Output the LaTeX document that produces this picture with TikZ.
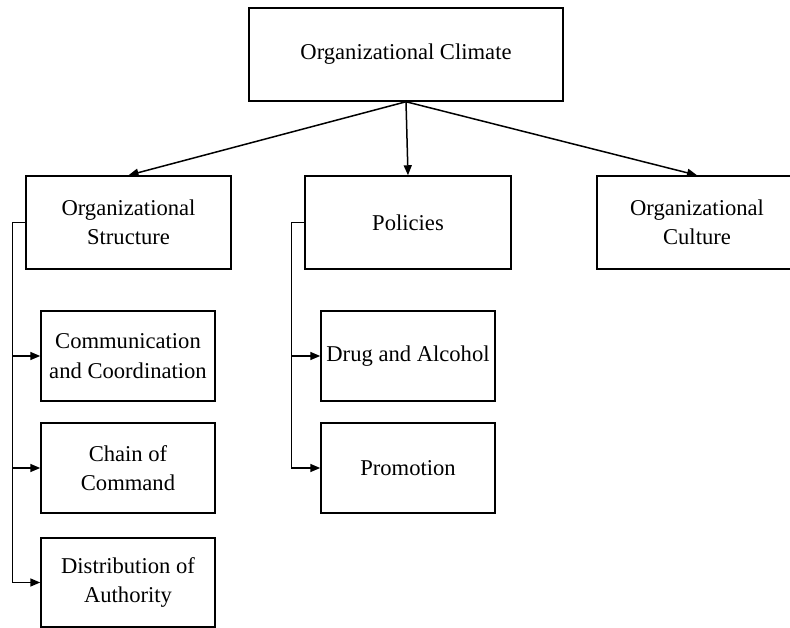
\documentclass[tikz,border=0pt]{standalone}
\usepackage{fontspec}
\setmainfont{Liberation Serif}
\usetikzlibrary{arrows.meta}
\begin{document}
\begin{tikzpicture}[x=1pt,y=-1pt,
  box/.style={draw, line width=1.5pt, inner sep=0pt, align=center,
    font=\fontsize{22.6}{29.5}\selectfont},
  conn/.style={line width=1.5pt, -{Triangle[length=10pt,width=8pt]}},
  link/.style={line width=1.5pt}]
\useasboundingbox (0,0) rectangle (790,628);
\node[box, minimum width=314pt, minimum height=93pt] (top) at (406,54.5) {Organizational Climate};
\node[box, minimum width=205pt, minimum height=93pt] (struct) at (128.5,222.5) {Organizational\\Structure};
\node[box, minimum width=206pt, minimum height=93pt] (pol) at (408,222.5) {Policies};
\node[box, minimum width=200pt, minimum height=93pt] (cult) at (697,222.5) {Organizational\\Culture};
\node[box, minimum width=174pt, minimum height=90pt] (comm) at (128,356) {Communication\\and Coordination};
\node[box, minimum width=174pt, minimum height=90pt] (chain) at (128,468) {Chain of\\Command};
\node[box, minimum width=174pt, minimum height=89pt] (dist) at (128,582.5) {Distribution of\\Authority};
\node[box, minimum width=174pt, minimum height=90pt] (drug) at (408,356) {Drug and Alcohol};
\node[box, minimum width=174pt, minimum height=90pt] (prom) at (408,468) {Promotion};
\draw[conn] (top.south) -- (struct.north);
\draw[conn] (top.south) -- (pol.north);
\draw[conn] (top.south) -- (cult.north);
\coordinate (sl) at ([xshift=-13pt]struct.west);
\coordinate (pl) at ([xshift=-13pt]pol.west);
\draw[link] (struct.west) -- (sl) -- (sl |- dist.west);
\draw[conn] (sl |- comm.west) -- (comm.west);
\draw[conn] (sl |- chain.west) -- (chain.west);
\draw[conn] (sl |- dist.west) -- (dist.west);
\draw[link] (pol.west) -- (pl) -- (pl |- prom.west);
\draw[conn] (pl |- drug.west) -- (drug.west);
\draw[conn] (pl |- prom.west) -- (prom.west);
\end{tikzpicture}
\end{document}
